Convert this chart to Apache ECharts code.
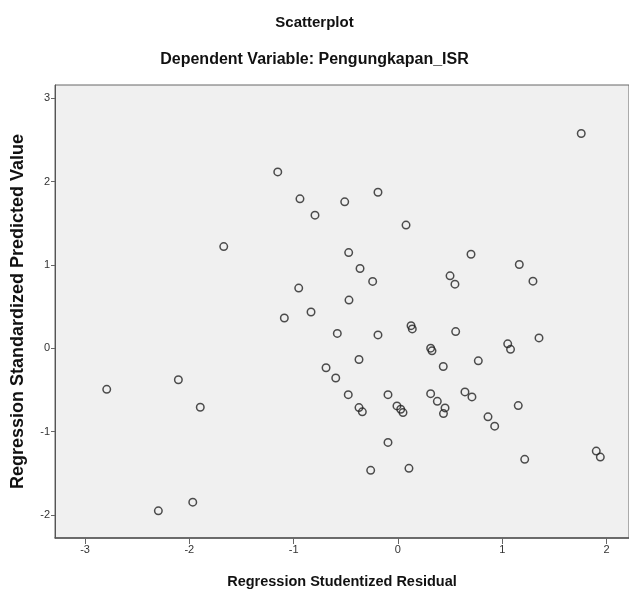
<!DOCTYPE html>
<html>
<head>
<meta charset="utf-8">
<script src="https://cdn.jsdelivr.net/npm/echarts@6/dist/echarts.min.js"></script>
<style>
  html, body { margin: 0; padding: 0; background: #fff; }
  #chart { width: 629px; height: 594px; }
</style>
</head>
<body>
<div id="chart"></div>
<script>
// Regression Studentized Residual (x)
var residual = [
  -2.792, -2.297, -1.967, -2.105, -1.895, -1.670, -1.152, -0.939, -0.795, -0.510,
  -0.191, 0.078, -0.472, -0.363, -0.242, -0.951, -0.469, -0.833, -1.089, -0.581,
  -0.191, -0.373, -0.689, -0.596, -0.476, -0.373, -0.341, -0.095, -0.009, 0.027,
  0.049, -0.095, -0.261, 0.106, 0.500, 0.547, 0.701, 1.164, 1.295, 1.758,
  0.126, 0.138, 0.554, 0.314, 0.327, 0.435, 0.771, 1.053, 1.080, 1.353,
  0.314, 0.378, 0.452, 0.437, 0.643, 0.710, 0.864, 0.928, 1.154, 1.216,
  1.902, 1.941
];
// Regression Standardized Predicted Value (y)
var predicted = [
  -0.493, -1.951, -1.847, -0.378, -0.708, 1.220, 2.116, 1.793, 1.597, 1.757,
  1.872, 1.478, 1.148, 0.957, 0.802, 0.722, 0.578, 0.435, 0.363, 0.178,
  0.160, -0.135, -0.234, -0.357, -0.557, -0.712, -0.763, -0.557, -0.692, -0.732,
  -0.772, -1.130, -1.465, -1.441, 0.869, 0.769, 1.128, 1.005, 0.805, 2.577,
  0.271, 0.232, 0.200, 0.001, -0.031, -0.219, -0.151, 0.053, -0.013, 0.124,
  -0.545, -0.637, -0.716, -0.784, -0.524, -0.584, -0.823, -0.935, -0.688, -1.333,
  -1.234, -1.306
];
var xTicks = [-3, -2, -1, 0, 1, 2];
var yTicks = [-2, -1, 0, 1, 2, 3];

var points = residual.map(function (x, i) { return [x, predicted[i]]; });

var textFont = 'Liberation Sans';
var chart = echarts.init(document.getElementById('chart'));
chart.setOption({
  backgroundColor: '#ffffff',
  animation: false,
  title: [
    {
      text: 'Scatterplot',
      left: 'center',
      top: 10,
      textStyle: { fontFamily: textFont, fontSize: 15, fontWeight: 'bold', color: '#111' }
    },
    {
      text: 'Dependent Variable: Pengungkapan_ISR',
      left: 'center',
      top: 47,
      textStyle: { fontFamily: textFont, fontSize: 16, fontWeight: 'bold', color: '#111' }
    }
  ],
  grid: {
    left: 55,
    top: 85,
    right: -2,
    bottom: 54,
    show: true,
    backgroundColor: '#f0f0f0',
    borderColor: '#666',
    borderWidth: 1
  },
  xAxis: {
    type: 'value',
    min: -3.288,
    max: 2.216,
    name: 'Regression Studentized Residual',
    nameLocation: 'middle',
    nameGap: 36,
    nameTextStyle: { fontFamily: textFont, fontSize: 14.5, fontWeight: 'bold', color: '#111' },
    axisLine: { show: true, onZero: false, lineStyle: { color: '#555', width: 1.5 } },
    axisTick: { show: true, length: 6, customValues: xTicks, lineStyle: { color: '#666' } },
    axisLabel: { customValues: xTicks, fontFamily: textFont, fontSize: 11, color: '#333', margin: 6 },
    splitLine: { show: false }
  },
  yAxis: {
    type: 'value',
    min: -2.277,
    max: 3.159,
    name: 'Regression Standardized Predicted Value',
    nameLocation: 'middle',
    nameRotate: 90,
    nameGap: 28,
    nameTextStyle: { fontFamily: textFont, fontSize: 18, fontWeight: 'bold', color: '#111' },
    axisLine: { show: true, onZero: false, lineStyle: { color: '#555', width: 1 } },
    axisTick: { show: true, length: 4, customValues: yTicks, lineStyle: { color: '#666' } },
    axisLabel: { customValues: yTicks, fontFamily: textFont, fontSize: 11, color: '#333', margin: 5 },
    splitLine: { show: false }
  },
  series: [
    {
      type: 'scatter',
      symbol: 'circle',
      symbolSize: 7.5,
      itemStyle: {
        color: 'rgba(0,0,0,0)',
        borderColor: '#222',
        borderWidth: 1.5
      },
      data: points
    }
  ]
});
</script>
</body>
</html>
